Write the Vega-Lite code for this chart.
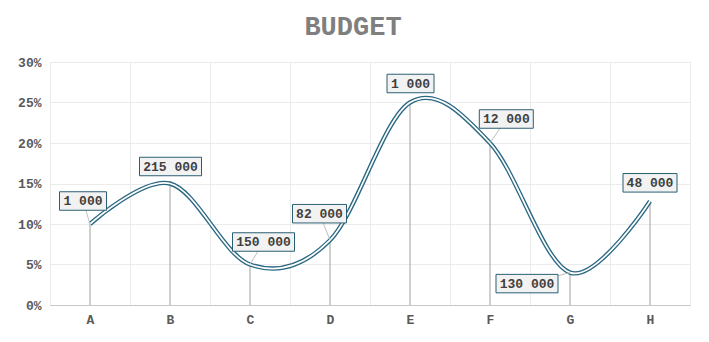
{
  "$schema": "https://vega.github.io/schema/vega-lite/v6.json",
  "width": 640,
  "height": 243,
  "autosize": {"type": "none"},
  "padding": {"left": 50, "top": 62, "right": 19, "bottom": 37},
  "background": "white",
  "title": {
    "text": "BUDGET",
    "font": "Liberation Mono",
    "fontSize": 27,
    "fontWeight": "bold",
    "color": "#7f7f7f",
    "anchor": "middle",
    "dx": -17,
    "offset": 15
  },
  "data": {
    "values": [
      {"cat": "A", "value": 0.10, "label": "1 000"},
      {"cat": "B", "value": 0.15, "label": "215 000"},
      {"cat": "C", "value": 0.05, "label": "150 000"},
      {"cat": "D", "value": 0.08, "label": "82 000"},
      {"cat": "E", "value": 0.25, "label": "1 000"},
      {"cat": "F", "value": 0.20, "label": "12 000"},
      {"cat": "G", "value": 0.04, "label": "130 000"},
      {"cat": "H", "value": 0.128, "label": "48 000"}
    ]
  },
  "encoding": {
    "x": {
      "field": "cat",
      "type": "nominal",
      "scale": {"paddingInner": 0, "paddingOuter": 0},
      "axis": {
        "title": null,
        "labelAngle": 0,
        "grid": true,
        "tickBand": "extent",
        "ticks": false,
        "domain": true,
        "domainColor": "#c8c8c8",
        "labelPadding": 8
      }
    },
    "y": {
      "field": "value",
      "type": "quantitative",
      "scale": {"domain": [0, 0.3]},
      "axis": {
        "title": null,
        "format": ".0%",
        "values": [0, 0.05, 0.1, 0.15, 0.2, 0.25, 0.3],
        "domain": false,
        "ticks": false,
        "labelPadding": 9
      }
    }
  },
  "layer": [
    {"mark": {"type": "rule", "color": "#a0a0a0", "strokeWidth": 1}, "encoding": {"y2": {"datum": 0}}},
    {"mark": {"type": "line", "interpolate": "cardinal", "stroke": "#2a6882", "strokeWidth": 4.4}},
    {"mark": {"type": "line", "interpolate": "cardinal", "stroke": "#ffffff", "strokeWidth": 1.7}},
    {
      "transform": [{"filter": "datum.cat === 'A'"}],
      "layer": [
        {"mark": {"type": "rule", "color": "#bfbfbf", "x2Offset": -7, "y2Offset": -23}, "encoding": {"x2": {"field": "cat"}, "y2": {"field": "value"}}},
        {"mark": {"type": "point", "shape": "M-1,-0.394H1V0.394H-1Z", "size": 2209, "filled": true, "fill": "#f2f2f2", "stroke": "#2a5f73", "strokeWidth": 1, "opacity": 1, "xOffset": -7, "yOffset": -23}},
        {"mark": {"type": "text", "xOffset": -7, "yOffset": -23, "font": "Liberation Mono", "fontSize": 13, "fontWeight": "bold", "color": "#404040", "align": "center", "baseline": "middle"}, "encoding": {"text": {"field": "label"}}}
      ]
    },
    {
      "transform": [{"filter": "datum.cat === 'B'"}],
      "layer": [
        {"mark": {"type": "point", "shape": "M-1,-0.298H1V0.298H-1Z", "size": 3844, "filled": true, "fill": "#f2f2f2", "stroke": "#2a5f73", "strokeWidth": 1, "opacity": 1, "xOffset": 0.5, "yOffset": -17}},
        {"mark": {"type": "text", "xOffset": 0.5, "yOffset": -17, "font": "Liberation Mono", "fontSize": 13, "fontWeight": "bold", "color": "#404040", "align": "center", "baseline": "middle"}, "encoding": {"text": {"field": "label"}}}
      ]
    },
    {
      "transform": [{"filter": "datum.cat === 'C'"}],
      "layer": [
        {"mark": {"type": "rule", "color": "#bfbfbf", "x2Offset": 13.5, "y2Offset": -22.5}, "encoding": {"x2": {"field": "cat"}, "y2": {"field": "value"}}},
        {"mark": {"type": "point", "shape": "M-1,-0.298H1V0.298H-1Z", "size": 3844, "filled": true, "fill": "#f2f2f2", "stroke": "#2a5f73", "strokeWidth": 1, "opacity": 1, "xOffset": 13.5, "yOffset": -22.5}},
        {"mark": {"type": "text", "xOffset": 13.5, "yOffset": -22.5, "font": "Liberation Mono", "fontSize": 13, "fontWeight": "bold", "color": "#404040", "align": "center", "baseline": "middle"}, "encoding": {"text": {"field": "label"}}}
      ]
    },
    {
      "transform": [{"filter": "datum.cat === 'D'"}],
      "layer": [
        {"mark": {"type": "rule", "color": "#bfbfbf", "x2Offset": -10.5, "y2Offset": -26.5}, "encoding": {"x2": {"field": "cat"}, "y2": {"field": "value"}}},
        {"mark": {"type": "point", "shape": "M-1,-0.343H1V0.343H-1Z", "size": 2916, "filled": true, "fill": "#f2f2f2", "stroke": "#2a5f73", "strokeWidth": 1, "opacity": 1, "xOffset": -10.5, "yOffset": -26.5}},
        {"mark": {"type": "text", "xOffset": -10.5, "yOffset": -26.5, "font": "Liberation Mono", "fontSize": 13, "fontWeight": "bold", "color": "#404040", "align": "center", "baseline": "middle"}, "encoding": {"text": {"field": "label"}}}
      ]
    },
    {
      "transform": [{"filter": "datum.cat === 'E'"}],
      "layer": [
        {"mark": {"type": "point", "shape": "M-1,-0.394H1V0.394H-1Z", "size": 2209, "filled": true, "fill": "#f2f2f2", "stroke": "#2a5f73", "strokeWidth": 1, "opacity": 1, "xOffset": 0.5, "yOffset": -19}},
        {"mark": {"type": "text", "xOffset": 0.5, "yOffset": -19, "font": "Liberation Mono", "fontSize": 13, "fontWeight": "bold", "color": "#404040", "align": "center", "baseline": "middle"}, "encoding": {"text": {"field": "label"}}}
      ]
    },
    {
      "transform": [{"filter": "datum.cat === 'F'"}],
      "layer": [
        {"mark": {"type": "rule", "color": "#bfbfbf", "x2Offset": 16.3, "y2Offset": -24}, "encoding": {"x2": {"field": "cat"}, "y2": {"field": "value"}}},
        {"mark": {"type": "point", "shape": "M-1,-0.343H1V0.343H-1Z", "size": 2916, "filled": true, "fill": "#f2f2f2", "stroke": "#2a5f73", "strokeWidth": 1, "opacity": 1, "xOffset": 16.3, "yOffset": -24}},
        {"mark": {"type": "text", "xOffset": 16.3, "yOffset": -24, "font": "Liberation Mono", "fontSize": 13, "fontWeight": "bold", "color": "#404040", "align": "center", "baseline": "middle"}, "encoding": {"text": {"field": "label"}}}
      ]
    },
    {
      "transform": [{"filter": "datum.cat === 'G'"}],
      "layer": [
        {"mark": {"type": "rule", "color": "#bfbfbf", "x2Offset": -43, "y2Offset": 11}, "encoding": {"x2": {"field": "cat"}, "y2": {"field": "value"}}},
        {"mark": {"type": "point", "shape": "M-1,-0.298H1V0.298H-1Z", "size": 3844, "filled": true, "fill": "#f2f2f2", "stroke": "#2a5f73", "strokeWidth": 1, "opacity": 1, "xOffset": -43, "yOffset": 11}},
        {"mark": {"type": "text", "xOffset": -43, "yOffset": 11, "font": "Liberation Mono", "fontSize": 13, "fontWeight": "bold", "color": "#404040", "align": "center", "baseline": "middle"}, "encoding": {"text": {"field": "label"}}}
      ]
    },
    {
      "transform": [{"filter": "datum.cat === 'H'"}],
      "layer": [
        {"mark": {"type": "point", "shape": "M-1,-0.343H1V0.343H-1Z", "size": 2916, "filled": true, "fill": "#f2f2f2", "stroke": "#2a5f73", "strokeWidth": 1, "opacity": 1, "xOffset": 0, "yOffset": -18.5}},
        {"mark": {"type": "text", "xOffset": 0, "yOffset": -18.5, "font": "Liberation Mono", "fontSize": 13, "fontWeight": "bold", "color": "#404040", "align": "center", "baseline": "middle"}, "encoding": {"text": {"field": "label"}}}
      ]
    }
  ],
  "config": {
    "view": {"stroke": "#ebebeb"},
    "axis": {
      "labelFont": "Liberation Mono",
      "labelFontSize": 13,
      "labelFontWeight": "bold",
      "labelColor": "#595959",
      "gridColor": "#ebebeb",
      "gridWidth": 1
    }
  }
}
